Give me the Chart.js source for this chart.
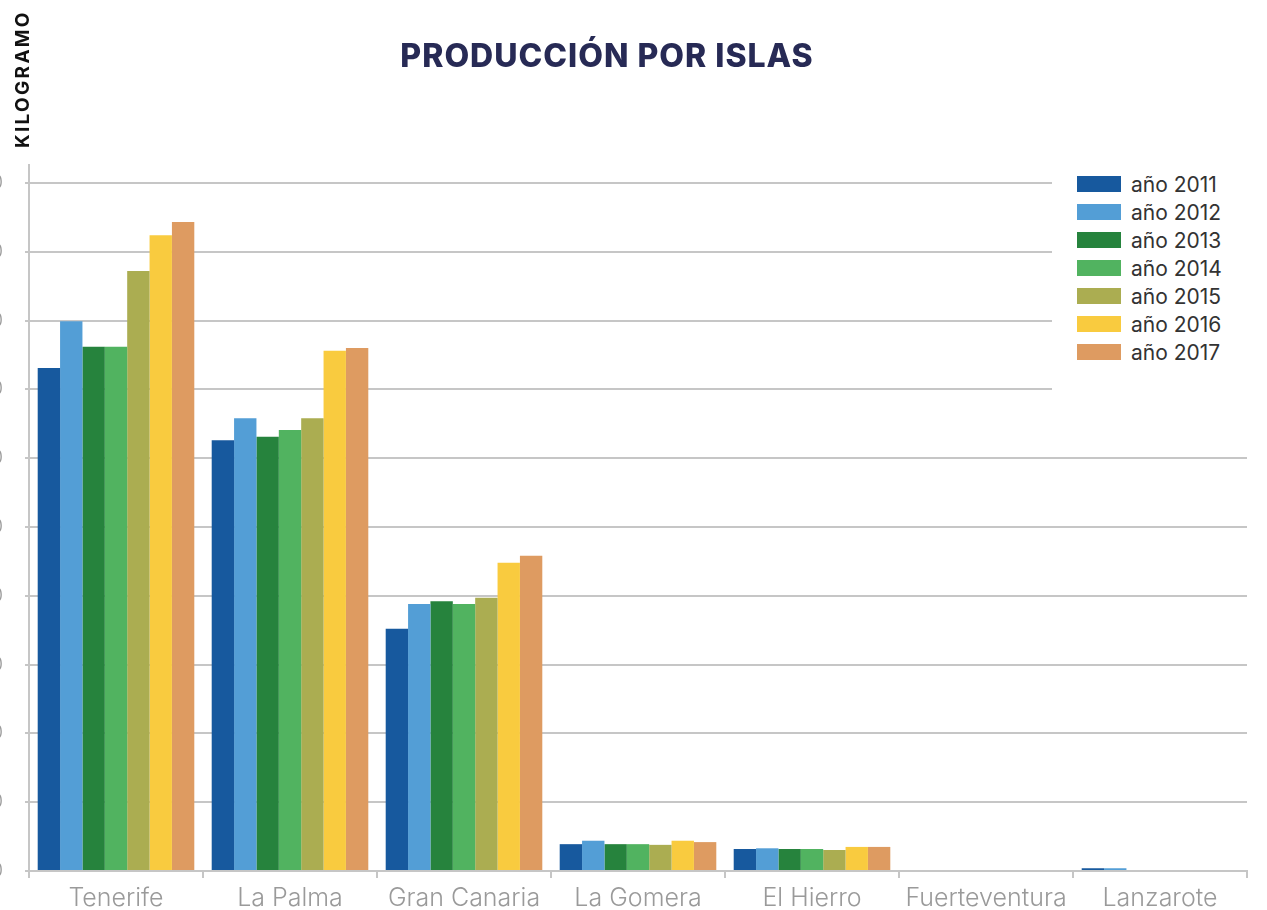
<!DOCTYPE html>
<html>
<head>
<meta charset="utf-8">
<script src="https://cdn.jsdelivr.net/npm/chart.js@4"></script>
<style>
    html, body { margin: 0; padding: 0; background: #fff; overflow: hidden; }
    body { width: 1267px; height: 910px; position: relative; }
    #wrap { position: absolute; left: -40px; top: 0; width: 1307px; height: 910px; }
    #title {
        position: absolute; left: 0; width: 1214px; top: 36px; text-align: center;
        font-family: Inter, "Open Sans", sans-serif; font-weight: 800; font-size: 32px;
        letter-spacing: 1px; color: #272a55; line-height: 40px;
    }
    #ylabel {
        position: absolute; left: 12px; top: 148px; transform-origin: 0 0; transform: rotate(-90deg);
        font-family: Inter, "Open Sans", sans-serif; font-weight: 700; font-size: 19px;
        color: #111; letter-spacing: 2.3px; white-space: nowrap; line-height: 22px;
    }
    #legend {
        position: absolute; left: 1052px; top: 170px; width: 202px; height: 224px; background: #fff;
    }
    .item { position: absolute; left: 25px; height: 28px; display: flex; align-items: center;
        font-family: Inter, "Open Sans", sans-serif; font-weight: 400; font-size: 21px; color: #333; }
    .sw { width: 44px; height: 16px; margin-right: 10px; }
</style>
</head>
<body>
<div id="wrap"><canvas id="chart"></canvas></div>
<div id="title">PRODUCCIÓN POR ISLAS</div>
<div id="ylabel">KILOGRAMO</div>
<div id="legend"></div>
<script>
    const islands = ["Tenerife", "La Palma", "Gran Canaria", "La Gomera", "El Hierro", "Fuerteventura", "Lanzarote"];
    const years = ["año 2011", "año 2012", "año 2013", "año 2014", "año 2015", "año 2016", "año 2017"];
    const colorsList = ["#17599e", "#539ed6", "#26833d", "#51b360", "#abad51", "#f9cb3f", "#de9b61"];

    const y2011 = [73.1, 62.6, 35.2, 3.9, 3.2, 0, 0.4];
    const y2012 = [79.9, 65.8, 38.8, 4.4, 3.3, 0, 0.4];
    const y2013 = [76.2, 63.1, 39.2, 3.9, 3.2, 0, 0];
    const y2014 = [76.2, 64.1, 38.8, 3.9, 3.2, 0, 0];
    const y2015 = [87.2, 65.8, 39.7, 3.8, 3.05, 0, 0];
    const y2016 = [92.4, 75.6, 44.8, 4.4, 3.5, 0, 0];
    const y2017 = [94.3, 76.0, 45.8, 4.2, 3.5, 0, 0];
    const series = [y2011, y2012, y2013, y2014, y2015, y2016, y2017];

    const yTicks = [0, 10, 20, 30, 40, 50, 60, 70, 80, 90, 100];

    const gridColor = "#c6c6c6";

    let ctx = document.getElementById("chart").getContext("2d");
    let myChart = new Chart(ctx, {
        type: "bar",
        data: {
            labels: islands,
            datasets: series.map(function (vals, i) {
                return {
                    label: years[i],
                    data: vals,
                    backgroundColor: colorsList[i],
                    borderWidth: 0,
                    categoryPercentage: 0.9,
                    barPercentage: 1.0,
                };
            }),
        },
        options: {
            responsive: true,
            maintainAspectRatio: false,
            animation: false,
            layout: { padding: { top: 165, right: 20, left: 0, bottom: 0 } },
            plugins: {
                legend: { display: false },
                tooltip: { enabled: false },
            },
            scales: {
                x: {
                    afterFit: function (scale) { scale.height = 39; },
                    ticks: {
                        padding: 5,
                        font: { family: "Inter", size: 25, weight: 300 },
                        color: "#9a9a9a",
                    },
                    grid: {
                        offset: true,
                        drawOnChartArea: false,
                        tickLength: 7,
                        color: gridColor,
                        lineWidth: 2,
                    },
                    border: { color: gridColor, width: 2 },
                },
                y: {
                    min: 0,
                    max: 102.6,
                    afterFit: function (scale) { scale.width = 69; },
                    afterBuildTicks: function (scale) {
                        scale.ticks = yTicks.map(function (v) { return { value: v }; });
                    },
                    ticks: {
                        padding: 22,
                        font: { family: "Inter", size: 20, weight: 300 },
                        color: "#9a9a9a",
                        callback: function (value) { return value * 100; },
                    },
                    grid: {
                        color: gridColor,
                        lineWidth: 2,
                        tickLength: 4,
                    },
                    border: { color: gridColor, width: 2 },
                },
            },
        },
    });

    // legend
    const legend = document.getElementById("legend");
    years.forEach(function (name, i) {
        const item = document.createElement("div");
        item.className = "item";
        item.style.top = (i * 28) + "px";
        item.innerHTML = '<span class="sw" style="background:' + colorsList[i] + '"></span>' + name;
        legend.appendChild(item);
    });
</script>
</body>
</html>
